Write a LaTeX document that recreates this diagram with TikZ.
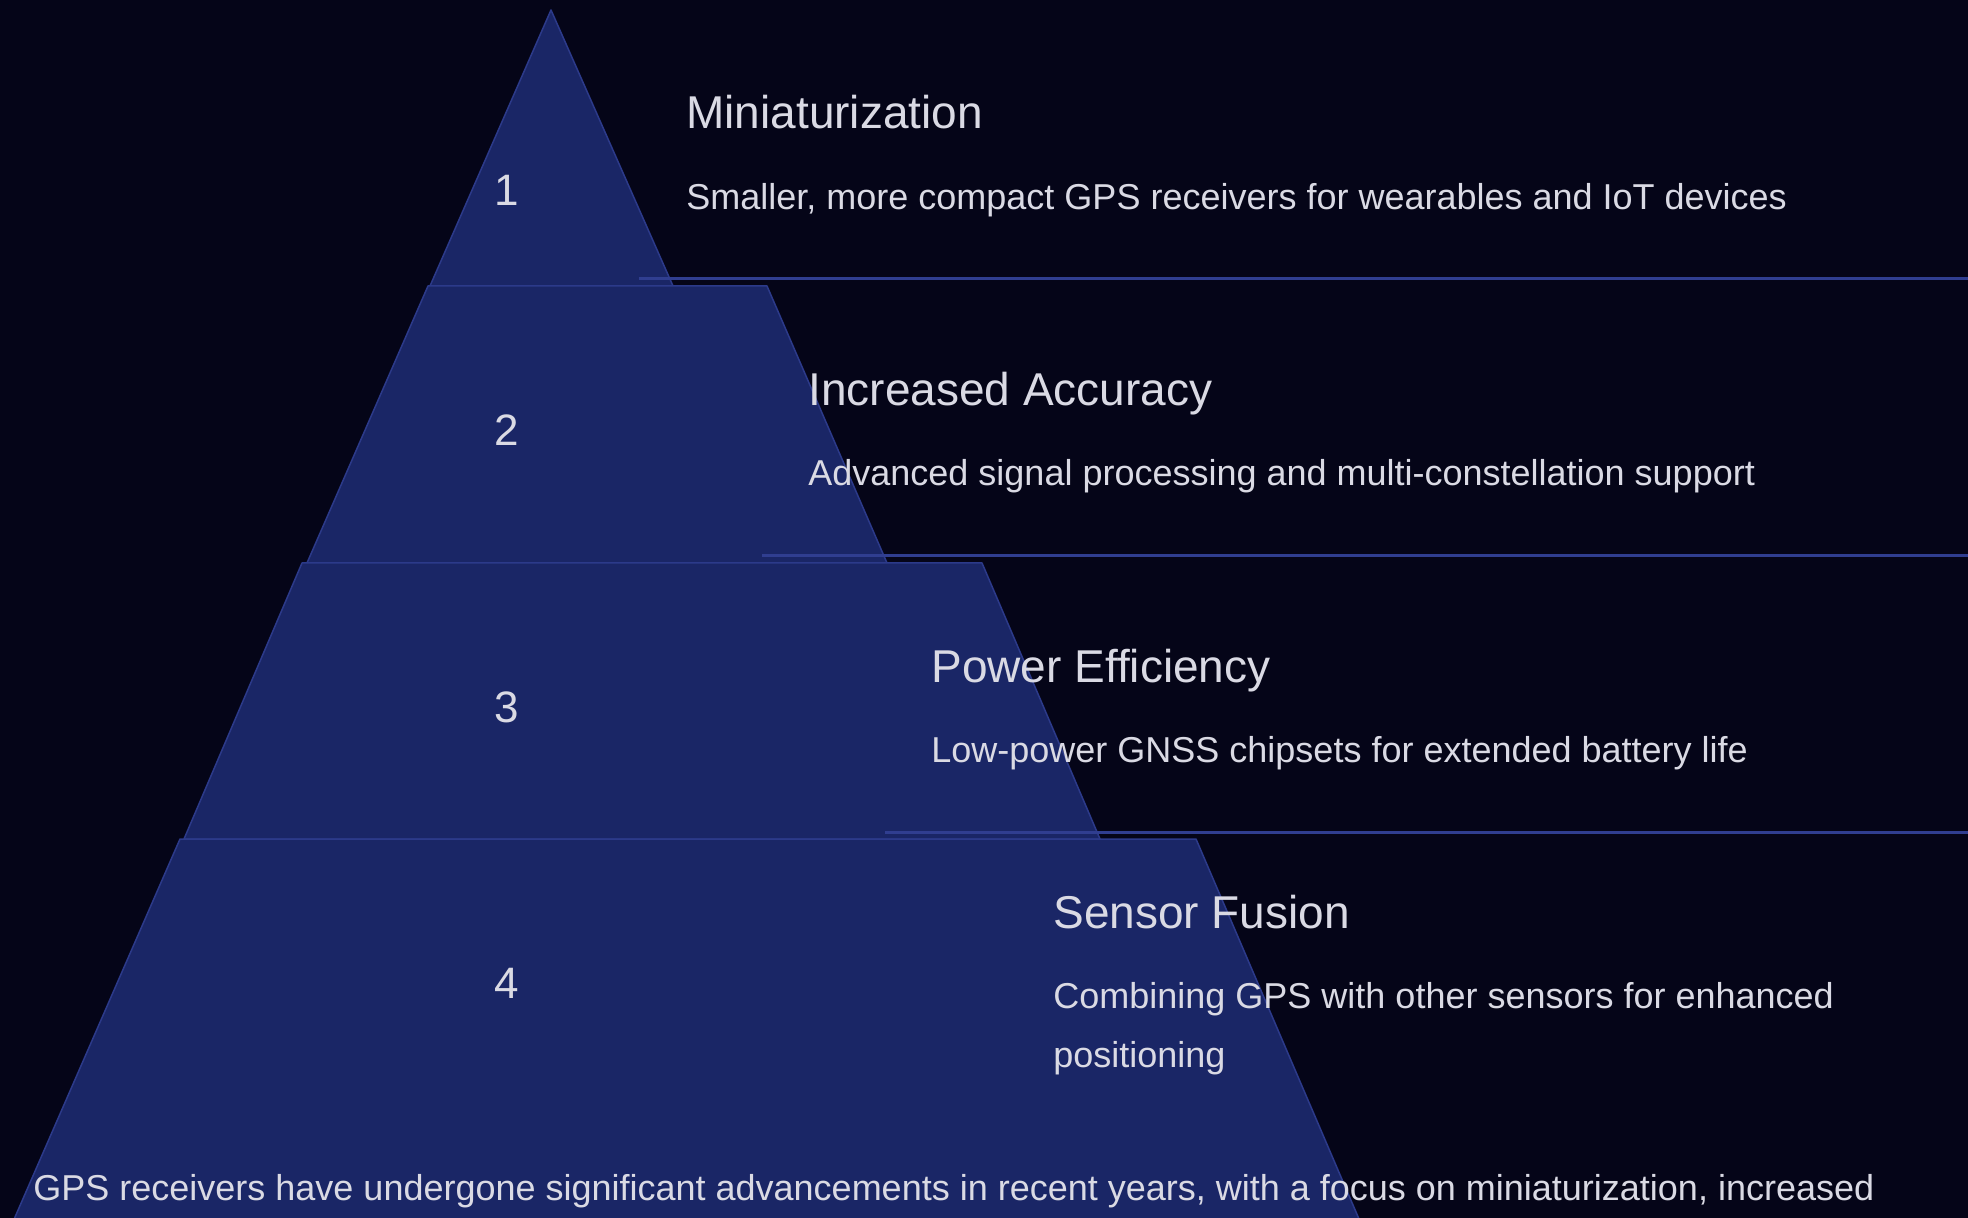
\documentclass[tikz,border=0pt]{standalone}
\usepackage{fontspec}
\setmainfont{Liberation Sans}
\usetikzlibrary{positioning}
\definecolor{bgnavy}{RGB}{5,5,24}
\definecolor{tierfill}{RGB}{26,38,102}
\definecolor{tieredge}{RGB}{44,58,138}
\definecolor{rulecol}{RGB}{48,62,144}
\definecolor{textgray}{RGB}{218,218,228}

\begin{document}
\begin{tikzpicture}[x=0.5pt, y=-0.5pt,
		tier/.style={fill=tierfill, draw=tieredge, line width=0.75pt, line join=round},
		sepline/.style={draw=rulecol, line width=1.5pt},
		tiernum/.style={text=textgray, font=\fontsize{22}{26}\selectfont, inner sep=0pt},
		tiertitle/.style={text=textgray, font=\fontsize{23}{28}\selectfont, inner sep=0pt, anchor=base west},
		tierdesc/.style={text=textgray, font=\fontsize{18}{29.5}\selectfont, inner sep=0pt, anchor=base west, align=left}]

	\useasboundingbox (0,0) rectangle (1968,1218);
	\fill[bgnavy] (0,0) rectangle (1968,1218);
	\clip (0,0) rectangle (1968,1218);

	\draw[tier] (551,10) -- (673,286) -- (430,286) -- cycle;
	\draw[tier] (428,286) -- (767,286) -- (887,563) -- (307,563) -- cycle;
	\draw[tier] (302,563) -- (982,563) -- (1100,839) -- (184,839) -- cycle;
	\draw[tier] (180,839) -- (1196,839) -- (1368,1240) -- (5,1240) -- cycle;

	\coordinate (start1) at (639,279);
	\coordinate (end1) at (1975,279);
	\coordinate (start2) at (762,556);
	\coordinate (end2) at (1975,556);
	\coordinate (start3) at (885,832);
	\coordinate (end3) at (1975,832);
	\draw[sepline] (start1) -- (end1);
	\draw[sepline] (start2) -- (end2);
	\draw[sepline] (start3) -- (end3);

	\node[tiernum] (num1) at (507,190) {1};
	\node[tiernum] (num2) at (507,430) {2};
	\node[tiernum] (num3) at (507,707) {3};
	\node[tiernum] (num4) at (507,983) {4};

	\node[tiertitle] (title1) at (686,129) {Miniaturization};
	\node[tierdesc] (desc1) at (686,210) {Smaller, more compact GPS receivers for wearables and IoT devices};
	\node[tiertitle] (title2) at (808,406) {Increased Accuracy};
	\node[tierdesc] (desc2) at (808,486) {Advanced signal processing and multi-constellation support};
	\node[tiertitle] (title3) at (931,682) {Power Efficiency};
	\node[tierdesc] (desc3) at (931,762) {Low-power GNSS chipsets for extended battery life};
	\node[tiertitle] (title4) at (1053,928) {Sensor Fusion};
	\node[tierdesc] (desc4) at (1053,1067) {Combining GPS with other sensors for enhanced\\positioning};

	\node[tierdesc] (summary) at (33,1200) {GPS receivers have undergone significant advancements in recent years, with a focus on miniaturization, increased};

\end{tikzpicture}
\end{document}
